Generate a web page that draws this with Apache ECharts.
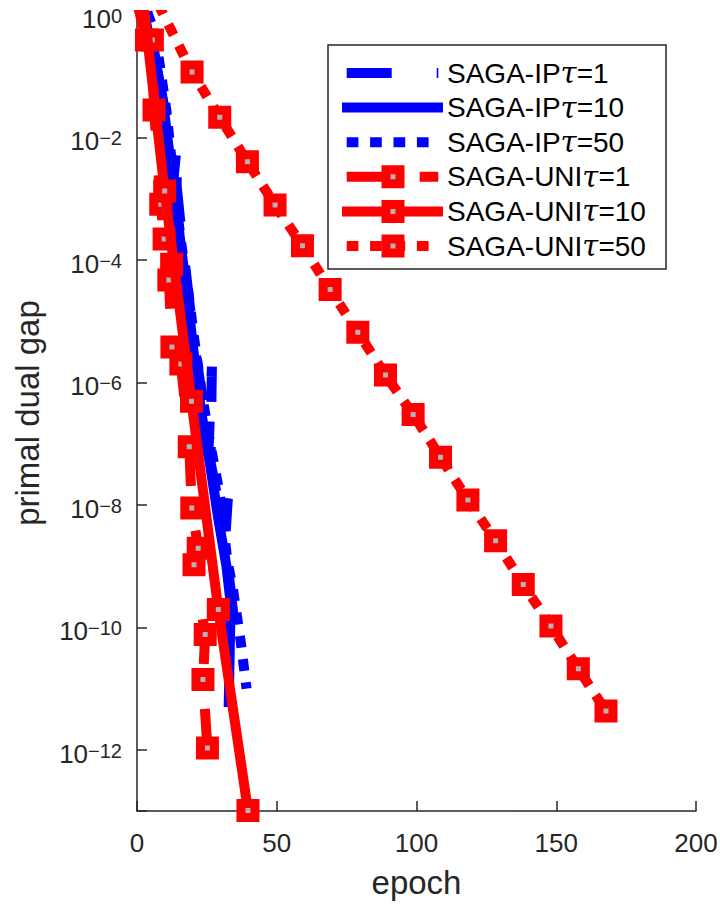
<!DOCTYPE html>
<html><head><meta charset="utf-8">
<script src="https://cdn.jsdelivr.net/npm/echarts@6/dist/echarts.min.js"></script>
<style>html,body{margin:0;padding:0;background:#fff}#c{width:720px;height:906px}</style>
</head><body><div id="c"></div><script>
const FONT = "'Liberation Sans', Arial, Helvetica, sans-serif";
const INK = '#262626';

// ---- data (epoch, primal dual gap) ----
const seriesNames = ['SAGA-IP\u03c4=1','SAGA-IP\u03c4=10','SAGA-IP\u03c4=50','SAGA-UNI\u03c4=1','SAGA-UNI\u03c4=10','SAGA-UNI\u03c4=50'];

const ip1X = [0, 3, 5.5, 8.5, 11, 13, 14.3, 14.2, 16, 18, 20, 23.5, 25.5, 26.8, 26.3, 28, 30.5, 32.5, 31.5, 33, 34.5, 35.5];
const ip1Y = [3.2, 0.79, 0.32, 0.063, 0.016, 2.0e-3, 7.9e-3, 1.6e-3, 2.5e-4, 4.0e-5, 6.3e-6, 5.0e-7, 6.3e-8, 1.8e-6, 5.0e-8, 2.0e-8, 5.0e-9, 1.26e-8, 2.5e-9, 6.3e-10, 1.6e-10, 5.0e-11];

const ip10X = [0, 3.5, 6, 9.5, 12.5, 15.5, 18, 20.5, 23, 26, 29, 32, 33.5, 32.8];
const ip10Y = [4.0, 0.63, 0.28, 0.032, 2.5e-3, 2.0e-4, 2.5e-5, 2.5e-6, 3.2e-7, 5.0e-8, 6.3e-9, 1.0e-9, 2.5e-10, 5.0e-12];

const ip50X = [0, 4, 6.5, 10.5, 13.8, 16.2, 18.3, 20.5, 23.6, 26.6, 29.5, 32.3, 34.4, 37, 39.2];
const ip50Y = [6.3, 1.0, 0.5, 0.028, 1.0e-3, 1.4e-4, 3.2e-5, 5.0e-6, 5.0e-7, 7.9e-8, 1.6e-8, 1.26e-9, 4.0e-10, 6.3e-11, 1.0e-11];

const uni1X = [0, 3.4, 5.5, 6.1, 8.5, 9.7, 12.4, 11.4, 12.5, 15.7, 18.7, 19.6, 21.9, 20.4, 24.4, 23.6, 25.2];
const uni1Y = [1.6, 0.39, 0.39, 0.028, 8.1e-4, 2.2e-4, 8.5e-5, 4.7e-5, 3.8e-6, 2.0e-6, 8.9e-8, 8.9e-9, 1.95e-9, 1.05e-9, 7.6e-11, 1.4e-11, 1.07e-12];

const uni10X = [2, 9.9, 19.5, 29.1, 39.7];
const uni10Y = [2.0, 1.33e-3, 4.9e-7, 1.95e-10, 1.02e-13];

const uni50X = [0, 19.7, 29.6, 39.5, 49.4, 59.2, 69.1, 79.0, 88.9, 98.8, 108.6, 118.4, 128.3, 138.2, 148.1, 157.9, 167.8];
const uni50Y = [7.4, 0.117, 0.0214, 4.0e-3, 7.9e-4, 1.7e-4, 3.3e-5, 6.6e-6, 1.32e-6, 3.0e-7, 6.0e-8, 1.2e-8, 2.6e-9, 5.0e-10, 1.05e-10, 2.1e-11, 4.3e-12];

const xTicks = [0, 50, 100, 150, 200];
const yExpMin = -13, yExpMax = 0;

// ---- styles ----
const BLUE = '#0000ff', RED = '#ff0000', GREY = '#b3b3b3';
const LW = 10;
const DASH = [45, 45], DOT = [11.7, 11.7];
const lineTypes = [DASH, 'solid', DOT, DASH, 'solid', DOT];
const legendDash = [[45, 45], null, [11.7, 11.7], [45, 28], null, [11.7, 11.7]];
const colors = [BLUE, BLUE, BLUE, RED, RED, RED];
const hasMarker = [false, false, false, true, true, true];
const xs = [ip1X, ip10X, ip50X, uni1X, uni10X, uni50X];
const ys = [ip1Y, ip10Y, ip50Y, uni1Y, uni10Y, uni50Y];

function pairs(xa, ya) { return xa.map((x, i) => [x, Math.log10(ya[i])]); }

const series = seriesNames.map((name, i) => ({
  name, type: 'line', z: 2 + i, clip: true, silent: true, animation: false,
  data: pairs(xs[i], ys[i]),
  symbol: hasMarker[i] ? 'rect' : 'none',
  showSymbol: hasMarker[i],
  symbolSize: 14,
  itemStyle: { color: GREY, borderColor: colors[i], borderWidth: 9, borderJoin: 'miter' },
  lineStyle: { color: colors[i], width: LW, type: lineTypes[i], cap: 'butt', join: 'miter', miterLimit: 10 },
  emphasis: { disabled: true }
}));

// ---- legend (graphic) ----
const legX = 328, legY = 45, legW = 338, legH = 224;
const rowY0 = 73, rowStep = 34.6;
const graphics = [{ type: 'rect', z: 100, shape: { x: legX, y: legY, width: legW, height: legH },
  style: { fill: '#fff', stroke: INK, lineWidth: 1.5 } }];
seriesNames.forEach((name, i) => {
  const y = rowY0 + i * rowStep;
  const d = legendDash[i];
  graphics.push({ type: 'line', z: 101, shape: { x1: d ? 346.7 : 342, y1: y, x2: d ? 438.3 : 443, y2: y },
    style: { stroke: colors[i], lineWidth: LW, lineDash: d, lineCap: 'butt' } });
  if (hasMarker[i]) {
    graphics.push({ type: 'rect', z: 102, shape: { x: 393 - 7, y: y - 7, width: 14, height: 14 },
      style: { fill: GREY, stroke: colors[i], lineWidth: 9, lineJoin: 'miter' } });
  }
  const parts = name.split('\u03c4');
  graphics.push({ type: 'text', z: 103, x: 447, y: y,
    style: {
      text: '{a|' + parts[0] + '}{t|\u03c4}{a|' + parts[1] + '}',
      rich: {
        a: { fontSize: 28, fontFamily: FONT, fill: '#000' },
        t: { fontSize: 29, fontFamily: "'DejaVu Serif', serif", fontStyle: 'italic', fill: '#000' }
      },
      fill: '#000', verticalAlign: 'middle', align: 'left'
    } });
});

const chart = echarts.init(document.getElementById('c'), null, { renderer: 'svg', width: 720, height: 906 });
chart.setOption({
  animation: false,
  backgroundColor: '#fff',
  grid: { left: 137, right: 24, top: 15, bottom: 95, containLabel: false, outerBoundsMode: 'none' },
  xAxis: {
    type: 'value', min: xTicks[0], max: xTicks[xTicks.length - 1], interval: xTicks[1] - xTicks[0],
    axisLine: { show: true, onZero: false, lineStyle: { color: INK, width: 1.5 } },
    axisTick: { show: true, inside: true, length: 10, lineStyle: { color: INK, width: 1.5 } },
    axisLabel: { fontSize: 26, color: INK, fontFamily: FONT, margin: 19 },
    splitLine: { show: false },
    name: 'epoch', nameLocation: 'middle', nameGap: 55,
    nameTextStyle: { fontSize: 33, color: INK, fontFamily: FONT }
  },
  yAxis: {
    type: 'value', min: yExpMin, max: yExpMax, splitNumber: 7, minInterval: 2, maxInterval: 2,
    axisLine: { show: true, onZero: false, lineStyle: { color: INK, width: 1.5 } },
    axisTick: { show: true, inside: true, length: 10, lineStyle: { color: INK, width: 1.5 } },
    axisLabel: {
      margin: 15, verticalAlign: 'middle', padding: [8, 0, 0, 0],
      formatter: v => {
        const e = Math.round(v);
        if (e % 2 !== 0) return '';
        return '{b|10}{s|' + (e < 0 ? '\u2212' + (-e) : String(e)) + '}';
      },
      rich: {
        b: { fontSize: 26, lineHeight: 26, verticalAlign: 'bottom', color: INK, fontFamily: FONT },
        s: { fontSize: 20, lineHeight: 10, verticalAlign: 'top', color: INK, fontFamily: FONT }
      }
    },
    splitLine: { show: false },
    name: 'primal dual gap', nameLocation: 'middle', nameGap: 93, nameRotate: 90,
    nameTextStyle: { fontSize: 33, color: INK, fontFamily: FONT }
  },
  series,
  graphic: graphics
});
</script></body></html>
